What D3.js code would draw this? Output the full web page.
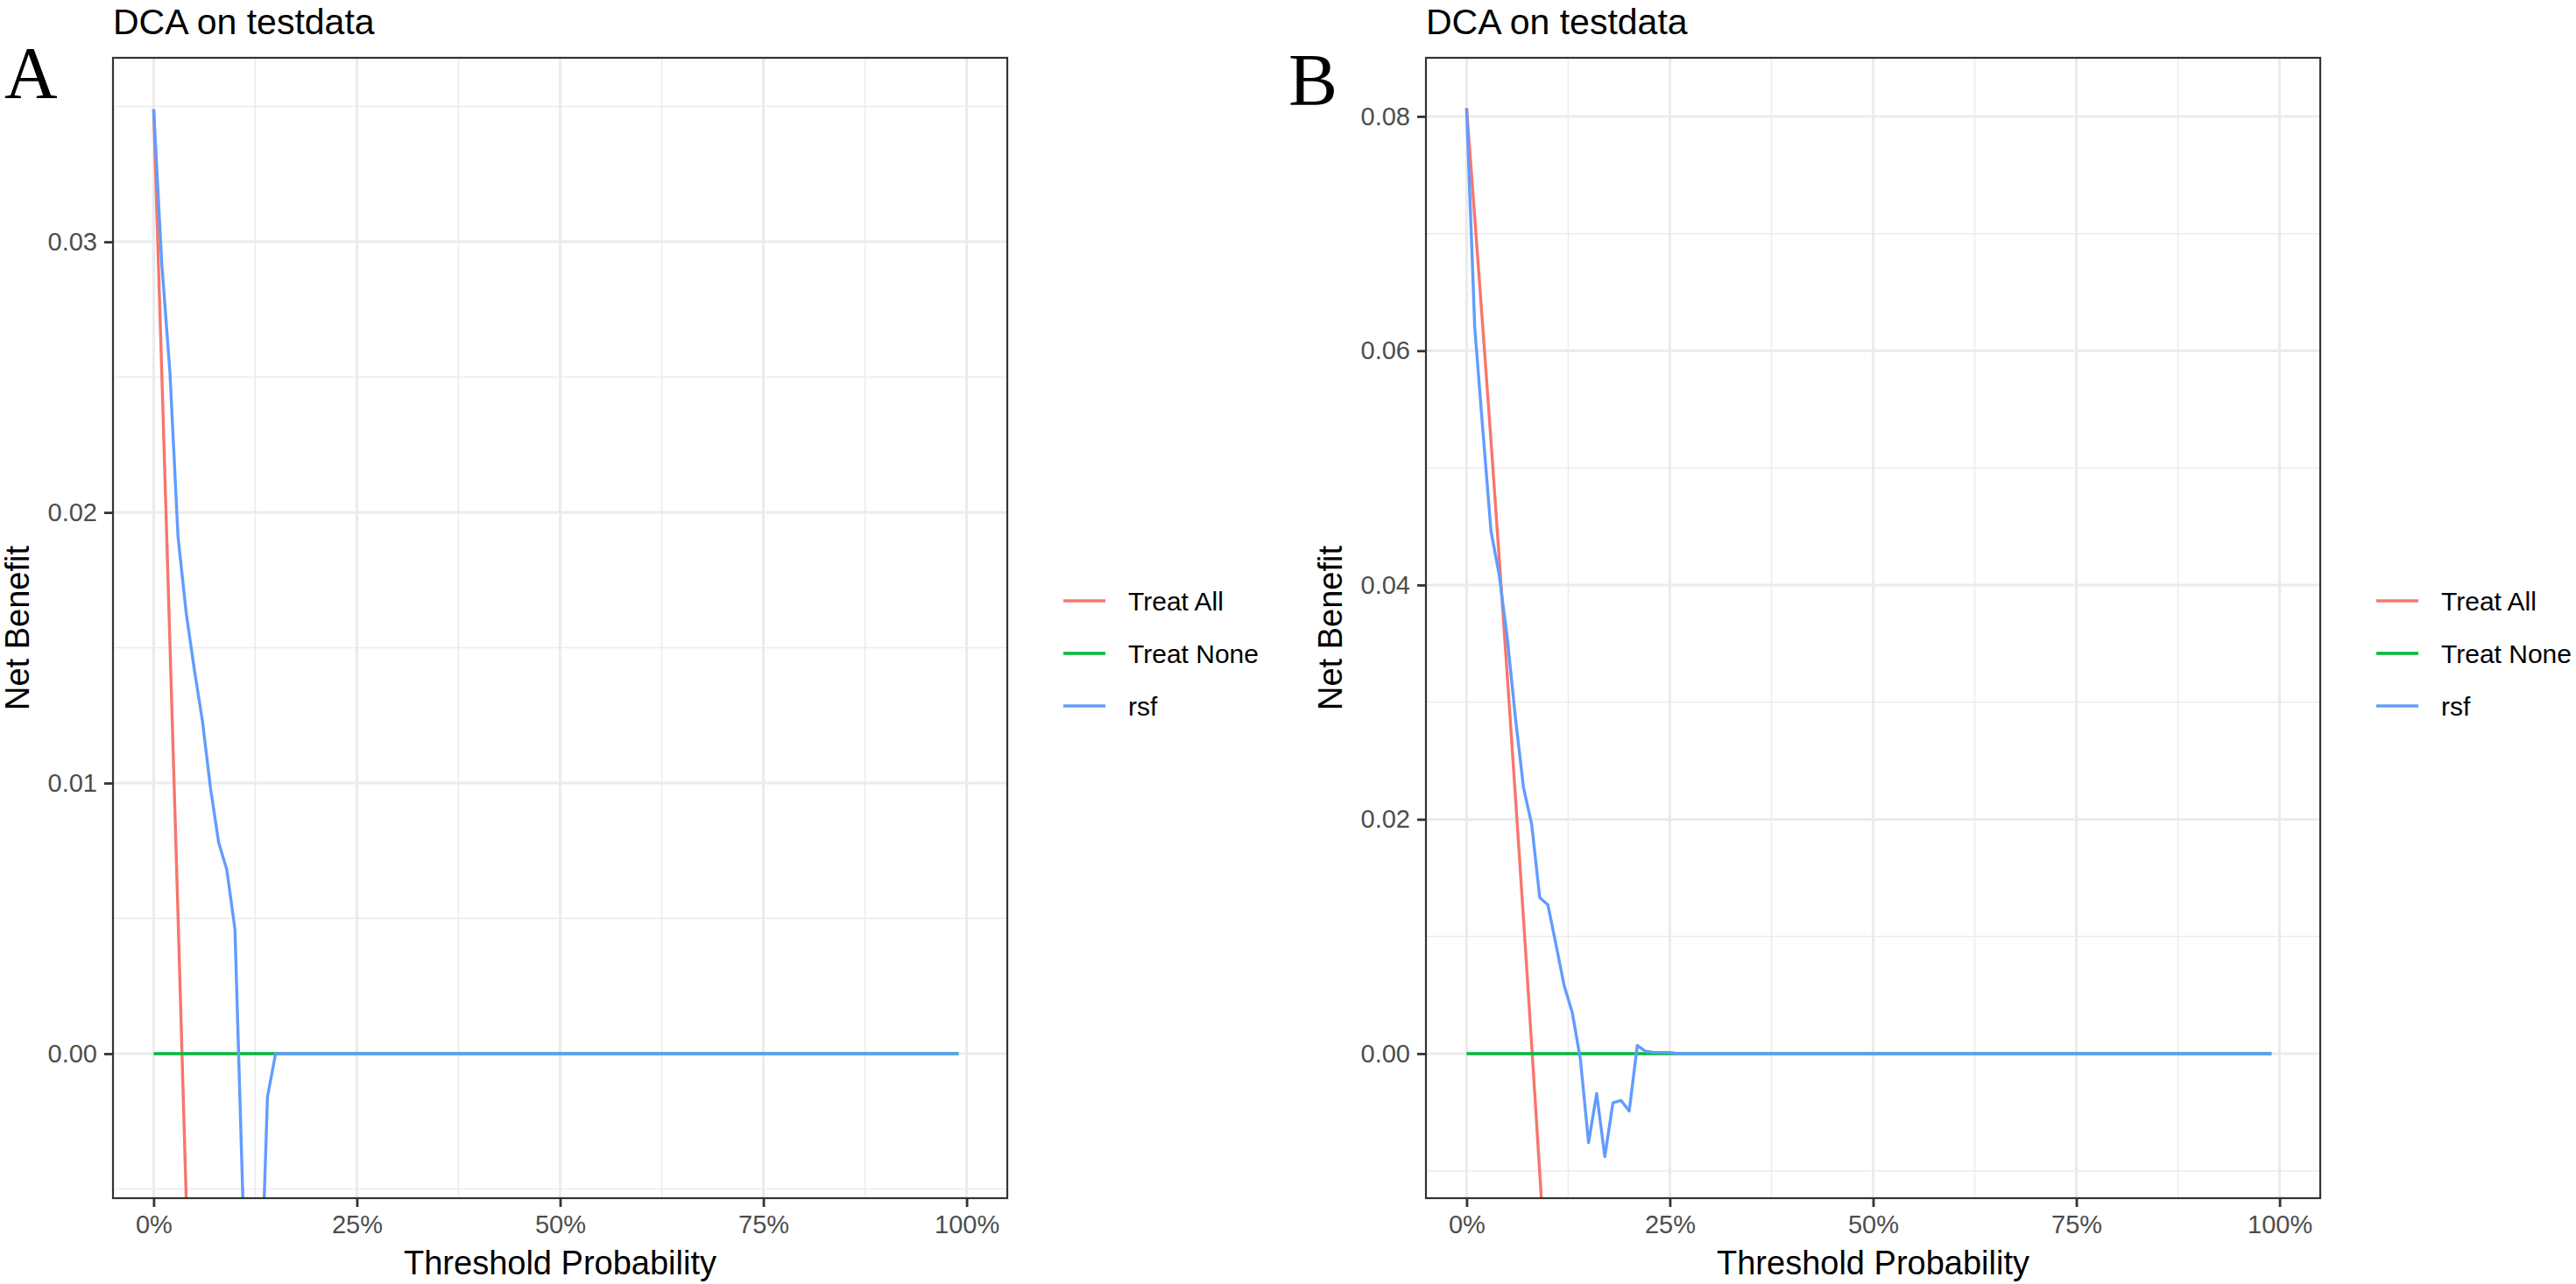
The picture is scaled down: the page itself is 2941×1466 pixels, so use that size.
<!DOCTYPE html>
<html>
<head>
<meta charset="utf-8">
<script src="https://cdn.jsdelivr.net/npm/d3@7"></script>
<style>
  body { margin: 0; background: #fff; }
  svg { display: block; }
  text { font-family: "Liberation Sans", Arial, sans-serif; }
</style>
</head>
<body>
<div id="chart"></div>
<script>
// series names / colours (ggplot defaults)
const seriesNames = ["Treat All", "Treat None", "rsf"];
const seriesColors = ["#F8766D", "#00BA38", "#619CFF"];

// x axis
const xTicks = [0, 0.25, 0.5, 0.75, 1];
const xMinor = [0.125, 0.375, 0.625, 0.875];
const xDomain = [-0.05, 1.05];

// Treat None is flat for both panels
const noneThr = [0, 0.99];
const treatNone = [0, 0];

// Panel A
const allThrA = [0, 0.01, 0.02, 0.03, 0.04, 0.05];
const treatAllA = [0.0349, 0.0252, 0.0152, 0.0051, -0.0053, -0.0159];
const rsfThrA = [0, 0.01, 0.02, 0.03, 0.04, 0.05, 0.06, 0.07, 0.08, 0.09, 0.10,
                 0.11, 0.12, 0.13, 0.14, 0.15, 0.99];
const rsfA = [0.0349, 0.0292, 0.0252, 0.0191, 0.0163, 0.0142, 0.0123, 0.0098, 0.0078, 0.0068, 0.0046,
              -0.0056, -0.0160, -0.0110, -0.0016, 0, 0];
const yTicksA = [0, 0.01, 0.02, 0.03];
const yMinorA = [-0.005, 0.005, 0.015, 0.025, 0.035];
const yDomainA = [-0.00534, 0.0368];

// Panel B
const allThrB = [0, 0.01, 0.02, 0.03, 0.04, 0.05, 0.06, 0.07, 0.08, 0.09, 0.10];
const treatAllB = [0.0807, 0.0714, 0.0619, 0.0523, 0.0424, 0.0323, 0.0220, 0.0115, 0.0008, -0.0102, -0.0214];
const rsfThrB = [0, 0.01, 0.02, 0.03, 0.04, 0.05, 0.06, 0.07, 0.08, 0.09, 0.10,
                 0.11, 0.12, 0.13, 0.14, 0.15, 0.16, 0.17, 0.18, 0.19, 0.20,
                 0.21, 0.22, 0.23, 0.24, 0.25, 0.26, 0.99];
const rsfB = [0.0807, 0.0620, 0.0532, 0.0446, 0.0409, 0.0355, 0.0287, 0.0227, 0.0196, 0.0133, 0.0127,
              0.0093, 0.0058, 0.0035, -0.0005, -0.0076, -0.0034, -0.0088, -0.0042, -0.0040, -0.0049,
              0.0007, 0.0002, 0.0001, 0.0001, 0.0001, 0, 0];
const yTicksB = [0, 0.02, 0.04, 0.06, 0.08];
const yMinorB = [-0.01, 0.01, 0.03, 0.05, 0.07];
const yDomainB = [-0.01234, 0.0850];

const W = 2941, H = 1466;
const svg = d3.select("#chart").append("svg").attr("width", W).attr("height", H);

function drawPanel(cfg) {
    const left = cfg.dx + 129, right = cfg.dx + 1150, top = 66, bottom = 1368;
    const x = d3.scaleLinear().domain(xDomain).range([left, right]);
    const y = d3.scaleLinear().domain(cfg.yDomain).range([bottom, top]);
    const g = svg.append("g");

    const clipId = "clip" + cfg.letter;
    svg.append("clipPath").attr("id", clipId)
        .append("rect").attr("x", left).attr("y", top).attr("width", right - left).attr("height", bottom - top);

    // grid
    const grid = g.append("g");
    grid.selectAll(".ymin").data(cfg.yMinor).join("line")
        .attr("x1", left).attr("x2", right).attr("y1", d => y(d)).attr("y2", d => y(d))
        .attr("stroke", "#EBEBEB").attr("stroke-width", 1.5);
    grid.selectAll(".xmin").data(xMinor).join("line")
        .attr("y1", top).attr("y2", bottom).attr("x1", d => x(d)).attr("x2", d => x(d))
        .attr("stroke", "#EBEBEB").attr("stroke-width", 1.5);
    grid.selectAll(".ymaj").data(cfg.yTicks).join("line")
        .attr("x1", left).attr("x2", right).attr("y1", d => y(d)).attr("y2", d => y(d))
        .attr("stroke", "#EBEBEB").attr("stroke-width", 3);
    grid.selectAll(".xmaj").data(xTicks).join("line")
        .attr("y1", top).attr("y2", bottom).attr("x1", d => x(d)).attr("x2", d => x(d))
        .attr("stroke", "#EBEBEB").attr("stroke-width", 3);

    // lines
    const line = d3.line().x(d => x(d[0])).y(d => y(d[1]));
    const lines = g.append("g").attr("clip-path", `url(#${clipId})`);
    cfg.series.forEach((s, i) => {
        lines.append("path")
            .datum(d3.zip(s.thr, s.val))
            .attr("d", line)
            .attr("fill", "none")
            .attr("stroke", seriesColors[i])
            .attr("stroke-width", 3.4)
            .attr("stroke-linejoin", "round");
    });

    // border
    g.append("rect").attr("x", left).attr("y", top).attr("width", right - left).attr("height", bottom - top)
        .attr("fill", "none").attr("stroke", "#333333").attr("stroke-width", 2.2);

    // axes
    const yAxis = g.append("g").attr("transform", `translate(${left},0)`)
        .call(d3.axisLeft(y).tickValues(cfg.yTicks).tickFormat(d3.format(".2f")).tickSize(10).tickPadding(8));
    const xAxis = g.append("g").attr("transform", `translate(0,${bottom})`)
        .call(d3.axisBottom(x).tickValues(xTicks).tickFormat(d3.format(".0%")).tickSize(10).tickPadding(9));
    [yAxis, xAxis].forEach(a => {
        a.select(".domain").remove();
        a.selectAll(".tick line").attr("stroke", "#333333").attr("stroke-width", 2.8);
        a.selectAll(".tick text").attr("fill", "#4D4D4D").style("font-size", "29px")
            .style("font-family", '"Liberation Sans", Arial, sans-serif');
    });

    // titles
    g.append("text").attr("x", left).attr("y", 39).text("DCA on testdata")
        .style("font-size", "41px").attr("fill", "#000");
    g.append("text").attr("x", (left + right) / 2).attr("y", 1455).attr("text-anchor", "middle")
        .text("Threshold Probability").style("font-size", "38px").attr("fill", "#000");
    g.append("text").attr("transform", `translate(${cfg.dx + 33},${(top + bottom) / 2}) rotate(-90)`)
        .attr("text-anchor", "middle").text("Net Benefit").style("font-size", "38px").attr("fill", "#000");

    // panel letter
    g.append("text").attr("x", cfg.letterX).attr("y", cfg.letterY).text(cfg.letter)
        .style("font-family", '"Liberation Serif", "Times New Roman", serif').style("font-size", "84px")
        .attr("fill", "#000");

    // legend
    const legend = g.append("g").attr("transform", `translate(${cfg.dx + 1214},686)`);
    seriesNames.forEach((name, i) => {
        const lg = legend.append("g").attr("transform", `translate(0,${i * 60})`);
        lg.append("line").attr("x1", 0).attr("x2", 48).attr("y1", 0).attr("y2", 0)
            .attr("stroke", seriesColors[i]).attr("stroke-width", 3.4);
        lg.append("text").attr("x", 74).attr("y", 0).attr("dy", "0.36em").text(name)
            .style("font-size", "30px").attr("fill", "#000");
    });
}

drawPanel({
    letter: "A", dx: 0, letterX: 5, letterY: 112,
    yDomain: yDomainA, yTicks: yTicksA, yMinor: yMinorA,
    series: [
        { thr: allThrA, val: treatAllA },
        { thr: noneThr, val: treatNone },
        { thr: rsfThrA, val: rsfA }
    ]
});

drawPanel({
    letter: "B", dx: 1499, letterX: 1471, letterY: 120,
    yDomain: yDomainB, yTicks: yTicksB, yMinor: yMinorB,
    series: [
        { thr: allThrB, val: treatAllB },
        { thr: noneThr, val: treatNone },
        { thr: rsfThrB, val: rsfB }
    ]
});
</script>
</body>
</html>
